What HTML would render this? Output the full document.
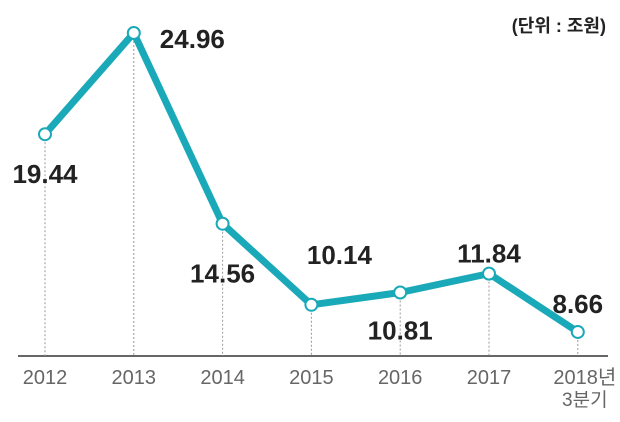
<!DOCTYPE html>
<html><head><meta charset="utf-8"><style>
body{margin:0;background:#fff;}
svg text{font-family:"Liberation Sans Narrow","Liberation Sans","Noto Sans CJK KR",sans-serif;}
</style></head><body>
<svg width="620" height="417" viewBox="0 0 620 417" id="chart">
<text x="606" y="32" text-anchor="end" font-size="18" font-weight="bold" fill="#222" style="font-family:'Liberation Sans','Noto Sans CJK KR',sans-serif">(단위 : 조원)</text>
<line x1="18" y1="356" x2="608" y2="356" stroke="#333" stroke-width="1.5"/>
</svg>
<script>
const categories=["2012","2013","2014","2015","2016","2017","2018년"];
const values=[19.44,24.96,14.56,10.14,10.81,11.84,8.66];
const valueLabels=["19.44","24.96","14.56","10.14","10.81","11.84","8.66"];
const svg=document.getElementById('chart');
const NS="http://www.w3.org/2000/svg";
function xs(i){return 45+i*88.8;}
function ys(v){return 33+(24.96-v)*18.34;}
const labelPos=[[0,40,"middle"],[26,6,"start"],[0,50,"middle"],[28,-50,"middle"],[0,38,"middle"],[0,-20,"middle"],[0,-28,"middle"]];
function mk(t,a){const e=document.createElementNS(NS,t);for(const k in a)e.setAttribute(k,a[k]);svg.appendChild(e);return e;}
values.forEach((v,i)=>{
 const g=mk('line',{x1:xs(i),y1:ys(v),x2:xs(i),y2:356,stroke:'#999','stroke-width':1,'stroke-dasharray':'2,2'});
 
 
});
const pts=values.map((v,i)=>xs(i)+','+ys(v)).join(' ');
const pl=mk('polyline',{points:pts,fill:'none',stroke:'#1aa9b8','stroke-width':7,'stroke-linejoin':'round'});


values.forEach((v,i)=>{
 const c=mk('circle',{cx:xs(i),cy:ys(v),r:6,fill:'#fff',stroke:'#1aa9b8','stroke-width':2});
 
 
 const p=labelPos[i];
 const t=mk('text',{x:xs(i)+p[0],y:ys(v)+p[1]+9,'text-anchor':p[2],'font-size':26,'font-weight':'bold',fill:'#222'});
 t.textContent=valueLabels[i];
 
 
 const xl=mk('text',{x:xs(i)+(i==6?7:0),y:384,'text-anchor':'middle','font-size':20,fill:'#666'});
 xl.textContent=categories[i];
 
 
});
const q=mk('text',{x:xs(6)+7,y:406,'text-anchor':'middle','font-size':19,fill:'#666'});
q.textContent="3분기";


</script>
</body></html>
